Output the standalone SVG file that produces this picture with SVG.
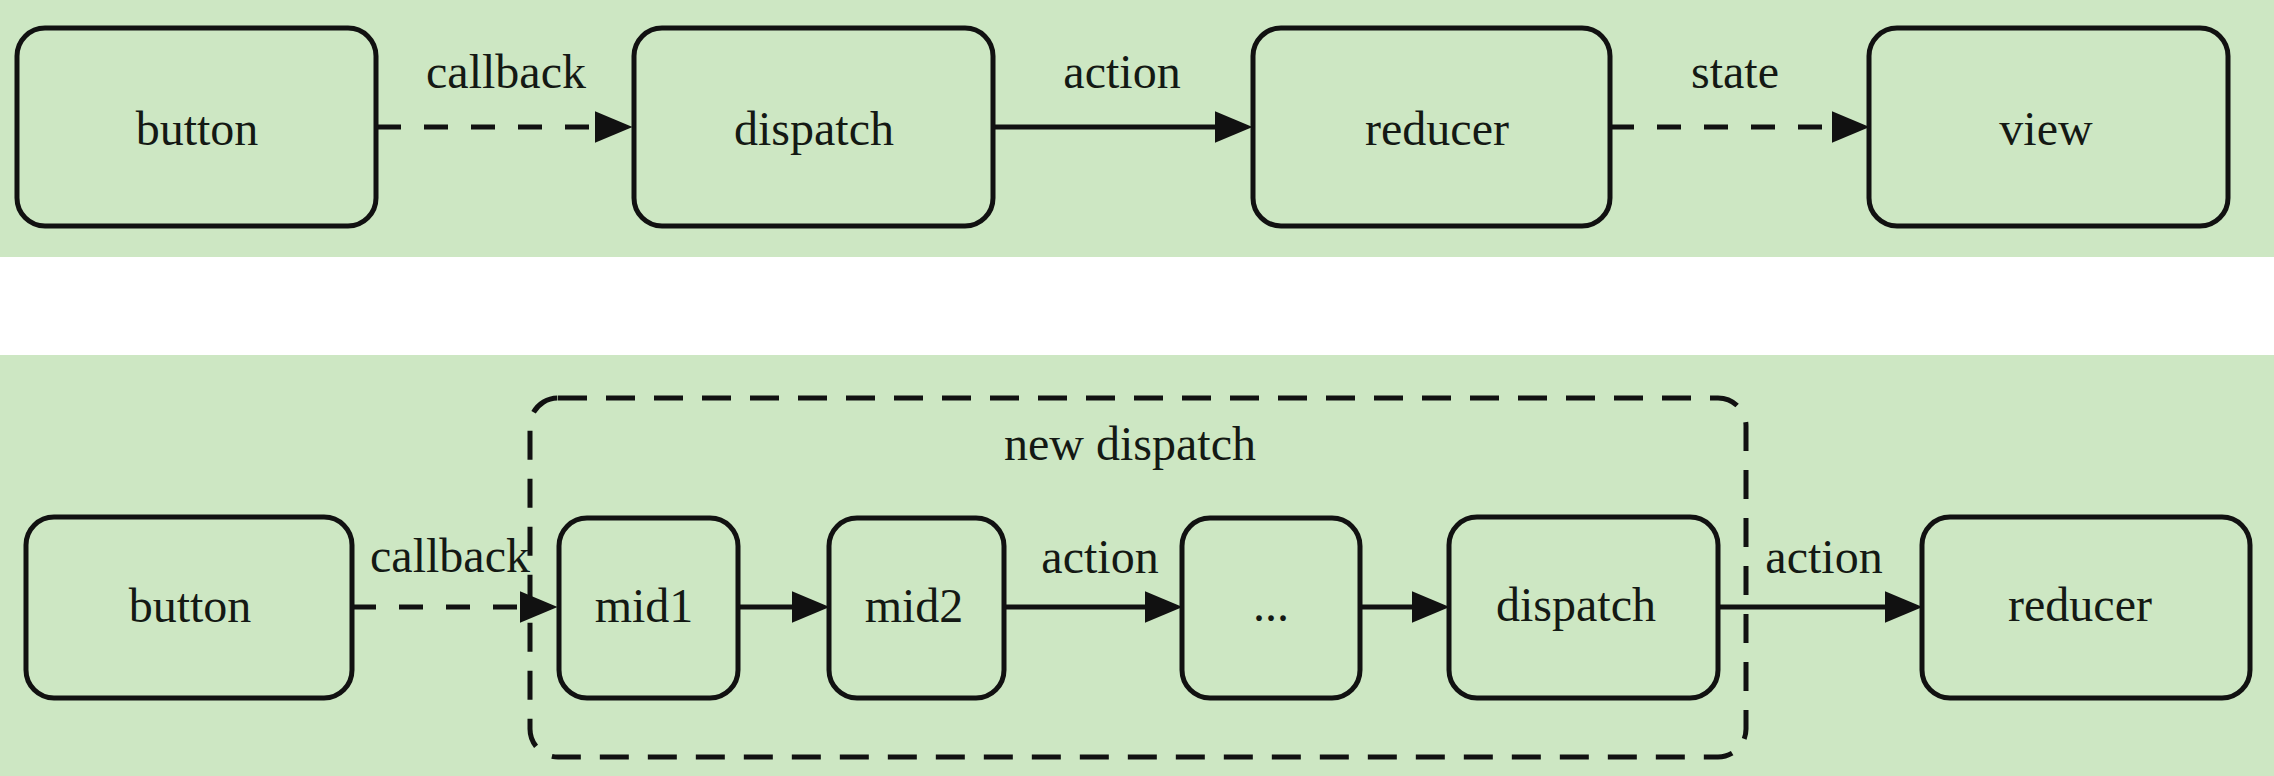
<svg xmlns="http://www.w3.org/2000/svg" width="2274" height="776" viewBox="0 0 2274 776">
<style>
.band{fill:#cde7c3}
.node{fill:#cde7c3;stroke:#111;stroke-width:5}
.lbl{font-family:"Liberation Serif","Times New Roman",serif;font-size:48px;fill:#141914;text-anchor:middle}
.edge{fill:none;stroke:#111;stroke-width:5}
.dash{stroke-dasharray:24 23}
.group{fill:none;stroke:#111;stroke-width:5;stroke-dasharray:29 19}
</style>
<defs>
<marker id="arr" markerUnits="userSpaceOnUse" markerWidth="38" markerHeight="32" viewBox="0 0 36 30" refX="26" refY="15" orient="auto">
<path d="M0,0 L36,15 L0,30 Z" fill="#111" stroke="none"/>
</marker>
</defs>
<rect width="2274" height="776" fill="#ffffff"/>
<rect class="band" x="0" y="0" width="2274" height="257"/>
<rect class="band" x="0" y="355" width="2274" height="421"/>

<g id="group-new-dispatch">
<rect class="group" x="530" y="398" width="1216" height="359" rx="28"/>
<text class="lbl" x="1130" y="460">new dispatch</text>
</g>

<g id="connectors">
<line class="edge dash" x1="377" y1="127" x2="622" y2="127" marker-end="url(#arr)"/>
<text class="lbl" x="506" y="88">callback</text>
<line class="edge" x1="993" y1="127" x2="1242" y2="127" marker-end="url(#arr)"/>
<text class="lbl" x="1122" y="88">action</text>
<line class="edge dash" x1="1610" y1="127" x2="1859" y2="127" marker-end="url(#arr)"/>
<text class="lbl" x="1735" y="88">state</text>

<line class="edge dash" x1="352" y1="607" x2="547" y2="607" marker-end="url(#arr)"/>
<text class="lbl" x="450" y="572">callback</text>
<line class="edge" x1="738" y1="607" x2="819" y2="607" marker-end="url(#arr)"/>
<line class="edge" x1="1004" y1="607" x2="1172" y2="607" marker-end="url(#arr)"/>
<text class="lbl" x="1100" y="573">action</text>
<line class="edge" x1="1360" y1="607" x2="1439" y2="607" marker-end="url(#arr)"/>
<line class="edge" x1="1718" y1="607" x2="1912" y2="607" marker-end="url(#arr)"/>
<text class="lbl" x="1824" y="573">action</text>
</g>

<g id="node-button-top">
<rect class="node" x="17" y="28" width="359" height="198" rx="28"/>
<text class="lbl" x="197" y="145">button</text>
</g>
<g id="node-dispatch-top">
<rect class="node" x="634" y="28" width="359" height="198" rx="28"/>
<text class="lbl" x="814" y="145">dispatch</text>
</g>
<g id="node-reducer-top">
<rect class="node" x="1253" y="28" width="357" height="198" rx="28"/>
<text class="lbl" x="1437" y="145">reducer</text>
</g>
<g id="node-view">
<rect class="node" x="1869" y="28" width="359" height="198" rx="28"/>
<text class="lbl" x="2046" y="145">view</text>
</g>

<g id="node-button-bottom">
<rect class="node" x="26" y="517" width="326" height="181" rx="28"/>
<text class="lbl" x="190" y="622">button</text>
</g>
<g id="node-mid1">
<rect class="node" x="559" y="518" width="179" height="180" rx="28"/>
<text class="lbl" x="644" y="622">mid1</text>
</g>
<g id="node-mid2">
<rect class="node" x="829" y="518" width="175" height="180" rx="28"/>
<text class="lbl" x="914" y="622">mid2</text>
</g>
<g id="node-ellipsis">
<rect class="node" x="1182" y="518" width="178" height="180" rx="28"/>
<text class="lbl" x="1271" y="621">...</text>
</g>
<g id="node-dispatch-bottom">
<rect class="node" x="1449" y="517" width="269" height="181" rx="28"/>
<text class="lbl" x="1576" y="621">dispatch</text>
</g>
<g id="node-reducer-bottom">
<rect class="node" x="1922" y="517" width="328" height="181" rx="28"/>
<text class="lbl" x="2080" y="621">reducer</text>
</g>
</svg>
